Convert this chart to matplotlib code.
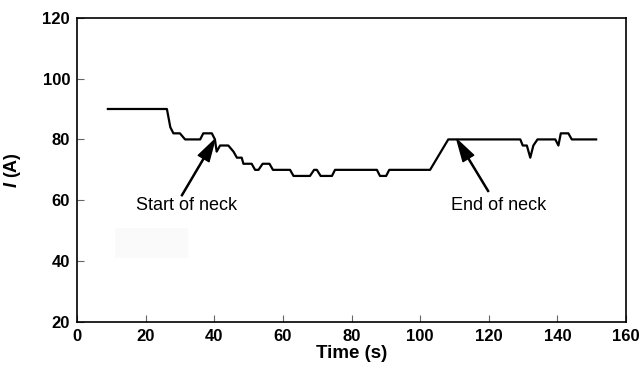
import matplotlib
matplotlib.use('Agg')
import matplotlib.pyplot as plt
from matplotlib.patches import Rectangle

plt.rcParams['font.family'] = ['Liberation Sans', 'DejaVu Sans']
plt.rcParams['mathtext.fontset'] = 'custom'
plt.rcParams['mathtext.it'] = 'Liberation Sans:bold:italic'
plt.rcParams['mathtext.rm'] = 'Liberation Sans:bold'

# welding current trace
time_s = [9, 26.2, 27.2, 28.1, 30.0, 31.5, 35.9, 36.8, 39.3, 40.2, 40.7, 41.7, 44.1,
          45.6, 46.6, 48.0, 48.5, 50.9, 51.9, 52.9, 54.1, 56.1, 57.1, 62.1, 63.1,
          67.9, 69.1, 69.9, 71.0, 74.3, 75.2, 87.4, 88.3, 90.1, 91.0, 102.9, 108.2,
          129.2, 129.9, 131.1, 132.1, 133.0, 134.2, 139.4, 140.3, 141.0, 143.2,
          144.2, 151.3]
current_a = [90, 90, 84, 82, 82, 80, 80, 82, 82, 80, 76, 78, 78,
             76, 74, 74, 72, 72, 70, 70, 72, 72, 70, 70, 68,
             68, 70, 70, 68, 68, 70, 70, 68, 68, 70, 70, 80,
             80, 78, 78, 74, 78, 80, 80, 78, 82, 82,
             80, 80]

notes = ['Start of neck', 'End of neck']
note_tip = [(40.2, 80), (110.7, 80)]
note_tail = [(30.5, 61.5), (119.9, 62.9)]
note_text = [(32.0, 58.2), (123, 58.2)]

fig = plt.figure(figsize=(6.39, 3.67), dpi=100)
ax = fig.add_axes([77/639, 1-322/367, 549/639, 304.3/367])

ax.add_patch(Rectangle((0.069, 0.21), 0.133, 0.099, transform=ax.transAxes,
                       facecolor='#fafafa', edgecolor='none', zorder=0))

ax.plot(time_s, current_a, color='black', linewidth=1.6)

for txt, tip, tail, pos in zip(notes, note_tip, note_tail, note_text):
    ax.annotate('', xy=tip, xytext=tail,
                arrowprops=dict(facecolor='black', edgecolor='black', width=0.8,
                                headwidth=9, headlength=16, shrink=0.0))
    ax.text(pos[0], pos[1], txt, ha='center', va='center', fontsize=13)

ax.set_xlim(0, 160)
ax.set_ylim(20, 120)
ax.set_xticks(range(0, 161, 20))
ax.set_yticks(range(20, 121, 20))
ax.tick_params(direction='in', length=5, width=0.8, labelsize=12, color='#666666', pad=5)
for lab in ax.get_xticklabels() + ax.get_yticklabels():
    lab.set_fontweight('bold')
ax.set_xlabel('Time (s)', fontsize=13.5, fontweight='bold', labelpad=1)
ax.set_ylabel(r'$I$ (A)', fontsize=13, fontweight='bold', labelpad=14)
for s in ax.spines.values():
    s.set_linewidth(1.2)

fig.savefig('out.png', dpi=100)
